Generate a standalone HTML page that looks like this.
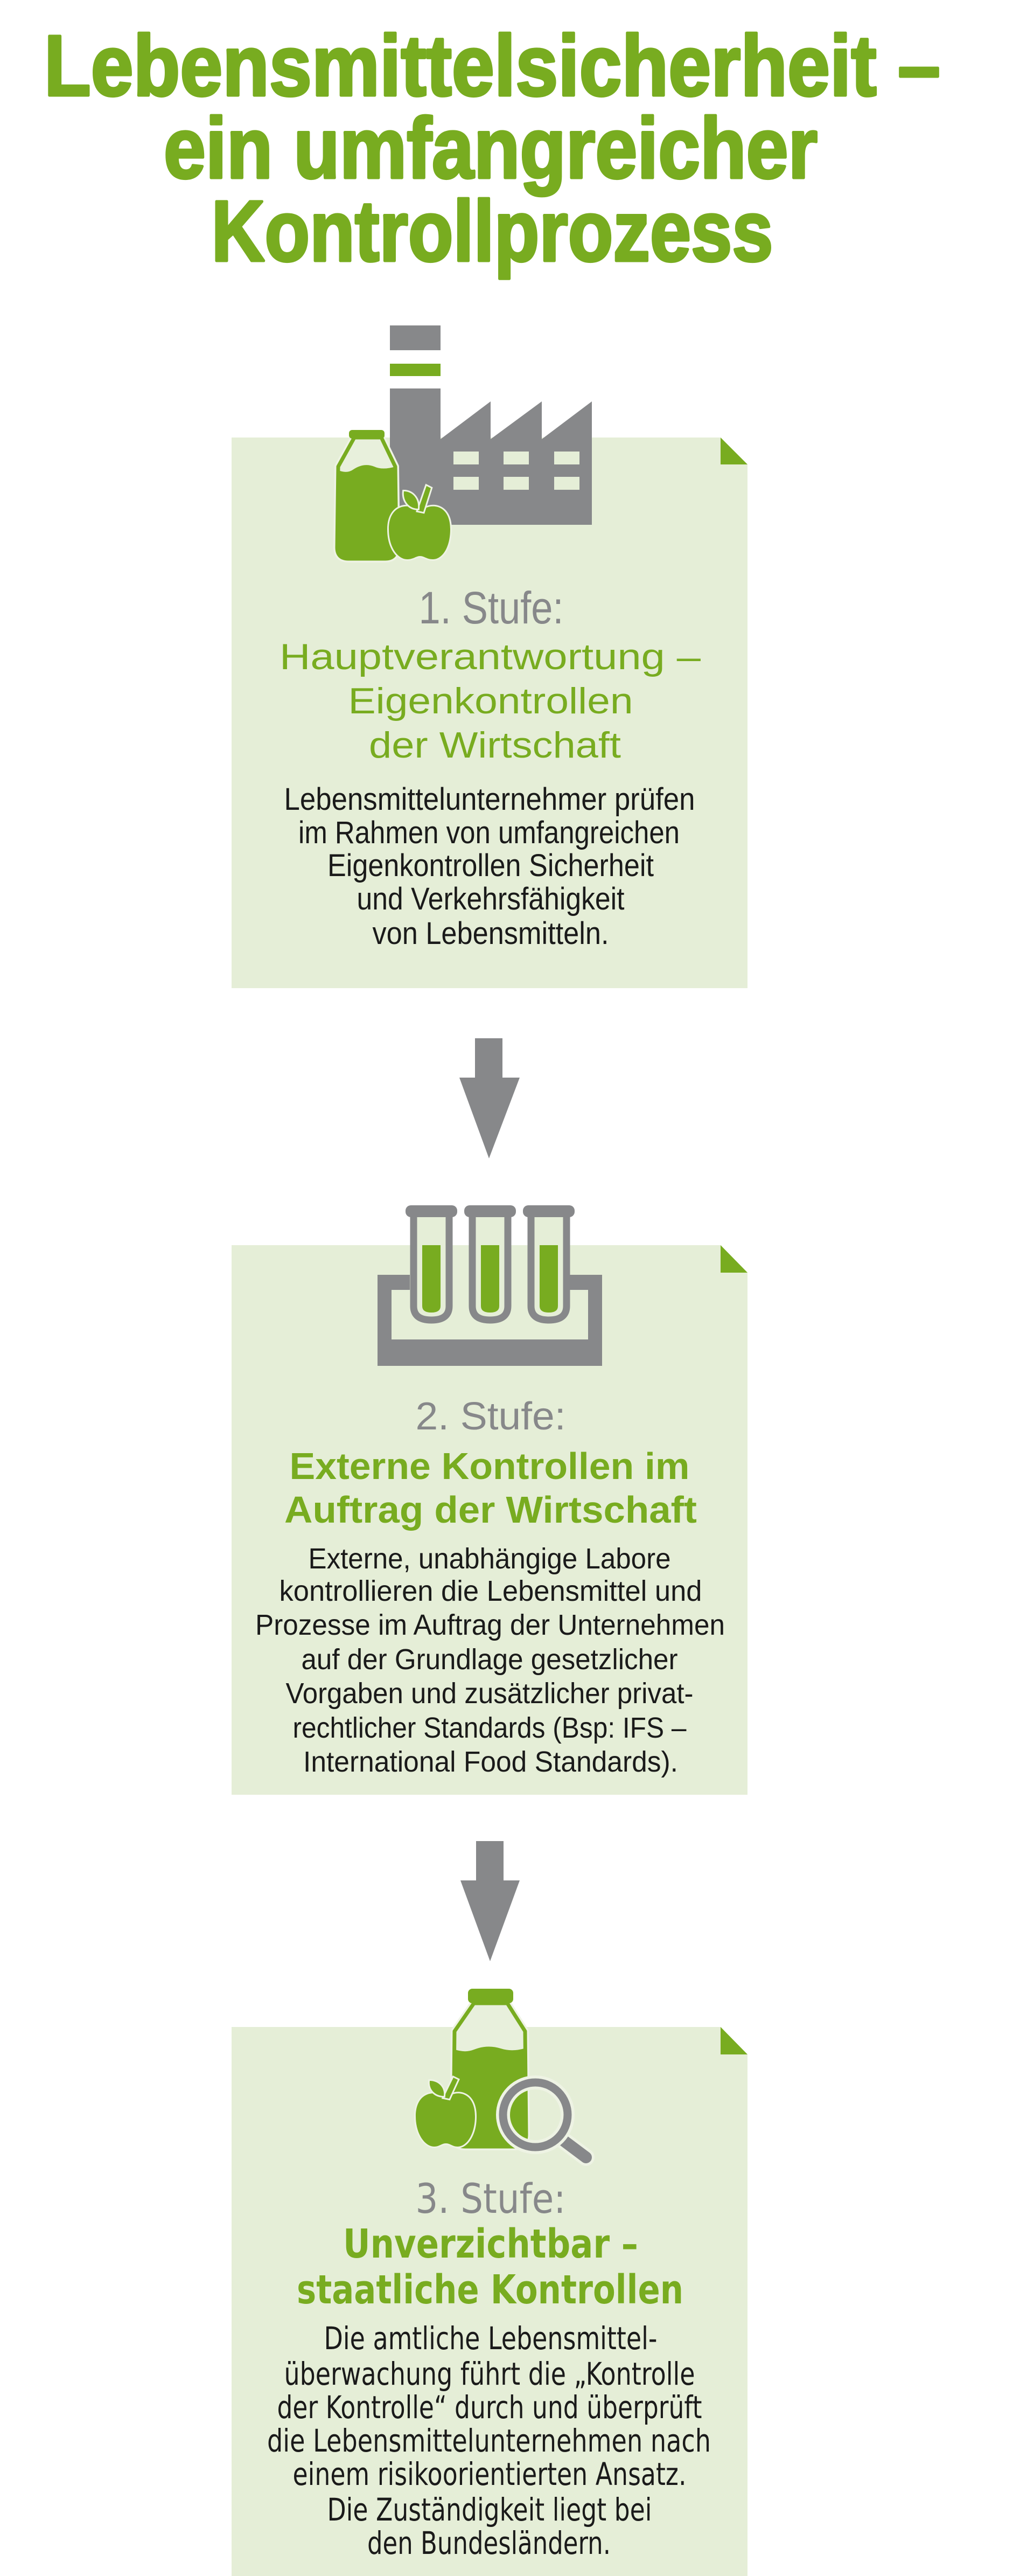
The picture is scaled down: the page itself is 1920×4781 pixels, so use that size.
<!DOCTYPE html>
<html><head><meta charset="utf-8"><style>
html,body{margin:0;padding:0;background:#fff;}
svg{display:block;}
</style></head><body>
<svg width="1920" height="4781" viewBox="0 0 1920 4781" xmlns="http://www.w3.org/2000/svg">
<defs>
<clipPath id="b1"><path d="M658,812 L708,812 L734,866 L736,1016 Q736,1037 715,1037 L647,1037 Q626,1037 626,1016 L628,866 Z"/></clipPath>
<clipPath id="b3"><path d="M880,3718 L942,3718 L975,3770 L977,3962 Q977,3984 955,3984 L864,3984 Q842,3984 842,3962 L844,3770 Z"/></clipPath>
</defs>
<rect width="1920" height="4781" fill="#fff"/>

<!-- Title -->
<g font-family="'Liberation Sans Narrow','Liberation Sans',sans-serif" font-weight="bold" font-size="160" fill="#78ac20" stroke="#78ac20" stroke-width="5" stroke-linejoin="round" text-anchor="middle">
<text x="914" y="177" textLength="1664" lengthAdjust="spacingAndGlyphs">Lebensmittelsicherheit –</text>
<text x="911" y="330" textLength="1214" lengthAdjust="spacingAndGlyphs">ein umfangreicher</text>
<text x="914" y="484" textLength="1043" lengthAdjust="spacingAndGlyphs">Kontrollprozess</text>
</g>

<!-- Boxes -->
<g fill="#e5eed7">
<polygon points="430,812 1338,812 1388,862 1388,1834 430,1834"/>
<polygon points="430,2311 1338,2311 1388,2362 1388,3331 430,3331"/>
<polygon points="430,3762 1338,3762 1388,3813 1388,4781 430,4781"/>
</g>
<g fill="#78ac20">
<polygon points="1338,812 1338,862 1388,862"/>
<polygon points="1338,2311 1338,2362 1388,2362"/>
<polygon points="1338,3762 1338,3813 1388,3813"/>
</g>

<!-- Factory icon -->
<g fill="#87888a">
<rect x="724" y="604" width="94" height="46"/>
<rect x="724" y="721" width="94" height="253"/>
<polygon points="818,815 911,745 911,815 1006,745 1006,815 1099,745 1099,974 818,974"/>
</g>
<rect x="724" y="675" width="94" height="23" fill="#78ac20"/>
<g fill="#e5eed7">
<rect x="842" y="838" width="47" height="24"/><rect x="935" y="838" width="47" height="24"/><rect x="1029" y="838" width="47" height="24"/>
<rect x="842" y="885" width="47" height="24"/><rect x="935" y="885" width="47" height="24"/><rect x="1029" y="885" width="47" height="24"/>
</g>
<!-- bottle 1 -->
<path d="M658,812 L708,812 L734,866 L736,1016 Q736,1037 715,1037 L647,1037 Q626,1037 626,1016 L628,866 Z" fill="#e8f0dc" stroke="#eef3e4" stroke-width="14" stroke-linejoin="round"/>
<path d="M658,812 L708,812 L734,866 L736,1016 Q736,1037 715,1037 L647,1037 Q626,1037 626,1016 L628,866 Z" fill="#e8f0dc" stroke="#78ac20" stroke-width="7" stroke-linejoin="round"/>
<path clip-path="url(#b1)" d="M615,866 Q640,882 655,872 Q675,858 695,866 Q712,874 740,864 L745,1045 L615,1045 Z" fill="#78ac20"/>
<rect x="648" y="798" width="66" height="16" rx="6" fill="#78ac20"/>
<!-- apple 1 -->
<g stroke="#eef3e4" stroke-width="6" paint-order="stroke" fill="#78ac20">
<path d="M780,950 C762,932 722,935 722,982 C722,1018 740,1038 756,1038 C768,1038 772,1032 780,1032 C788,1032 792,1038 804,1038 C820,1038 836,1018 836,982 C836,935 798,932 780,950 Z"/>
<path d="M776,948 L792,902 L800,906 L786,950 Z"/>
<path d="M776,944 C760,944 748,930 750,912 C766,912 778,926 776,944 Z"/>
</g>

<!-- Box1 text -->
<g text-anchor="middle" font-family="'Liberation Sans Narrow','Liberation Sans',sans-serif">
<text x="912" y="1157" font-size="84" fill="#87888a" textLength="269" lengthAdjust="spacingAndGlyphs">1. Stufe:</text>
<g font-size="68" fill="#78ac20">
<text x="910" y="1242" textLength="782" lengthAdjust="spacingAndGlyphs">Hauptverantwortung –</text>
<text x="911" y="1324" textLength="529" lengthAdjust="spacingAndGlyphs">Eigenkontrollen</text>
<text x="919" y="1406" textLength="468" lengthAdjust="spacingAndGlyphs">der Wirtschaft</text>
</g>
<g font-size="58" fill="#1a1a1a">
<text x="909" y="1503" textLength="763" lengthAdjust="spacingAndGlyphs">Lebensmittelunternehmer prüfen</text>
<text x="908" y="1565" textLength="708" lengthAdjust="spacingAndGlyphs">im Rahmen von umfangreichen</text>
<text x="911" y="1626" textLength="606" lengthAdjust="spacingAndGlyphs">Eigenkontrollen Sicherheit</text>
<text x="911" y="1688" textLength="497" lengthAdjust="spacingAndGlyphs">und Verkehrsfähigkeit</text>
<text x="911" y="1752" textLength="439" lengthAdjust="spacingAndGlyphs">von Lebensmitteln.</text>
</g>
</g>

<!-- Arrows -->
<g fill="#87888a">
<polygon points="882,1927 933,1927 933,2000 965,2000 908,2150 853,2000 882,2000"/>
<polygon points="884,3417 935,3417 935,3490 965,3490 910,3640 855,3490 884,3490"/>
</g>

<!-- Test tubes icon -->
<g fill="#87888a">
<rect x="701" y="2366" width="26" height="169"/>
<rect x="701" y="2366" width="60" height="28"/>
<rect x="1092" y="2366" width="26" height="169"/>
<rect x="1058" y="2366" width="60" height="28"/>
<rect x="701" y="2486" width="417" height="49"/>
</g>
<g stroke="#87888a" stroke-width="13" fill="#e5eed7">
<path d="M768,2254 L768,2424 Q768,2450 801,2450 Q834,2450 834,2424 L834,2254"/>
<path d="M877,2254 L877,2424 Q877,2450 910,2450 Q943,2450 943,2424 L943,2254"/>
<path d="M986,2254 L986,2424 Q986,2450 1019,2450 Q1052,2450 1052,2424 L1052,2254"/>
</g>
<g fill="#87888a">
<rect x="753" y="2237" width="96" height="22" rx="10"/>
<rect x="862" y="2237" width="96" height="22" rx="10"/>
<rect x="971" y="2237" width="96" height="22" rx="10"/>
</g>
<g fill="#78ac20">
<path d="M784,2311 L818,2311 L818,2424 Q818,2436 801,2436 Q784,2436 784,2424 Z"/>
<path d="M893,2311 L927,2311 L927,2424 Q927,2436 910,2436 Q893,2436 893,2424 Z"/>
<path d="M1002,2311 L1036,2311 L1036,2424 Q1036,2436 1019,2436 Q1002,2436 1002,2424 Z"/>
</g>

<!-- Box2 text -->
<g text-anchor="middle" font-family="'Liberation Sans',sans-serif">
<text x="911" y="2653" font-size="72" fill="#87888a" textLength="279" lengthAdjust="spacingAndGlyphs">2. Stufe:</text>
<g font-size="70" fill="#78ac20" font-weight="bold">
<text x="909" y="2745" textLength="743" lengthAdjust="spacingAndGlyphs">Externe Kontrollen im</text>
<text x="911" y="2826" textLength="766" lengthAdjust="spacingAndGlyphs">Auftrag der Wirtschaft</text>
</g>
<g font-size="54" fill="#1a1a1a">
<text x="909" y="2911" textLength="673" lengthAdjust="spacingAndGlyphs">Externe, unabhängige Labore</text>
<text x="911" y="2971" textLength="785" lengthAdjust="spacingAndGlyphs">kontrollieren die Lebensmittel und</text>
<text x="910" y="3034" textLength="872" lengthAdjust="spacingAndGlyphs">Prozesse im Auftrag der Unternehmen</text>
<text x="909" y="3098" textLength="699" lengthAdjust="spacingAndGlyphs">auf der Grundlage gesetzlicher</text>
<text x="909" y="3161" textLength="757" lengthAdjust="spacingAndGlyphs">Vorgaben und zusätzlicher privat-</text>
<text x="909" y="3225" textLength="731" lengthAdjust="spacingAndGlyphs">rechtlicher Standards (Bsp: IFS –</text>
<text x="911" y="3288" textLength="696" lengthAdjust="spacingAndGlyphs">International Food Standards).</text>
</g>
</g>

<!-- Icon 3 -->
<path d="M880,3718 L942,3718 L975,3770 L977,3962 Q977,3984 955,3984 L864,3984 Q842,3984 842,3962 L844,3770 Z" fill="#e8f0dc" stroke="#eef3e4" stroke-width="14" stroke-linejoin="round"/>
<path d="M880,3718 L942,3718 L975,3770 L977,3962 Q977,3984 955,3984 L864,3984 Q842,3984 842,3962 L844,3770 Z" fill="#e8f0dc" stroke="#78ac20" stroke-width="7" stroke-linejoin="round"/>
<path clip-path="url(#b3)" d="M835,3800 Q860,3812 880,3804 Q905,3794 930,3802 Q955,3810 985,3798 L985,3990 L835,3990 Z" fill="#78ac20"/>
<rect x="869" y="3691" width="84" height="27" rx="8" fill="#78ac20"/>
<g stroke="#eef3e4" stroke-width="6" paint-order="stroke" fill="#78ac20">
<path d="M828,3895 C812,3878 772,3880 772,3928 C772,3962 790,3984 806,3984 C816,3984 820,3978 828,3978 C836,3978 840,3984 850,3984 C866,3984 882,3962 882,3928 C882,3880 844,3878 828,3895 Z"/>
<path d="M824,3893 L842,3856 L850,3860 L834,3895 Z"/>
<path d="M824,3890 C808,3890 796,3878 798,3862 C814,3862 826,3874 824,3890 Z"/>
</g>
<line x1="1040" y1="3968" x2="1088" y2="4004" stroke="#eef3e4" stroke-width="32" stroke-linecap="round"/>
<line x1="1040" y1="3968" x2="1088" y2="4004" stroke="#87888a" stroke-width="22" stroke-linecap="round"/>
<circle cx="994" cy="3925" r="60" fill="none" stroke="#eef3e4" stroke-width="26"/>
<circle cx="994" cy="3925" r="60" fill="none" stroke="#87888a" stroke-width="15"/>

<!-- Box3 text -->
<g text-anchor="middle" font-family="'DejaVu Sans',sans-serif">
<text x="911" y="4107" font-size="76" fill="#87888a" textLength="279" lengthAdjust="spacingAndGlyphs">3. Stufe:</text>
<g font-size="74" fill="#78ac20" font-weight="bold">
<text x="911" y="4190" textLength="548" lengthAdjust="spacingAndGlyphs">Unverzichtbar –</text>
<text x="910" y="4275" textLength="718" lengthAdjust="spacingAndGlyphs">staatliche Kontrollen</text>
</g>
<g font-size="58" fill="#1a1a1a">
<text x="911" y="4360" textLength="619" lengthAdjust="spacingAndGlyphs">Die amtliche Lebensmittel-</text>
<text x="909" y="4426" textLength="763" lengthAdjust="spacingAndGlyphs">überwachung führt die „Kontrolle</text>
<text x="909" y="4488" textLength="789" lengthAdjust="spacingAndGlyphs">der Kontrolle“ durch und überprüft</text>
<text x="908" y="4550" textLength="824" lengthAdjust="spacingAndGlyphs">die Lebensmittelunternehmen nach</text>
<text x="909" y="4612" textLength="731" lengthAdjust="spacingAndGlyphs">einem risikoorientierten Ansatz.</text>
<text x="909" y="4678" textLength="603" lengthAdjust="spacingAndGlyphs">Die Zuständigkeit liegt bei</text>
<text x="908" y="4740" textLength="452" lengthAdjust="spacingAndGlyphs">den Bundesländern.</text>
</g>
</g>
</svg>
</body></html>
